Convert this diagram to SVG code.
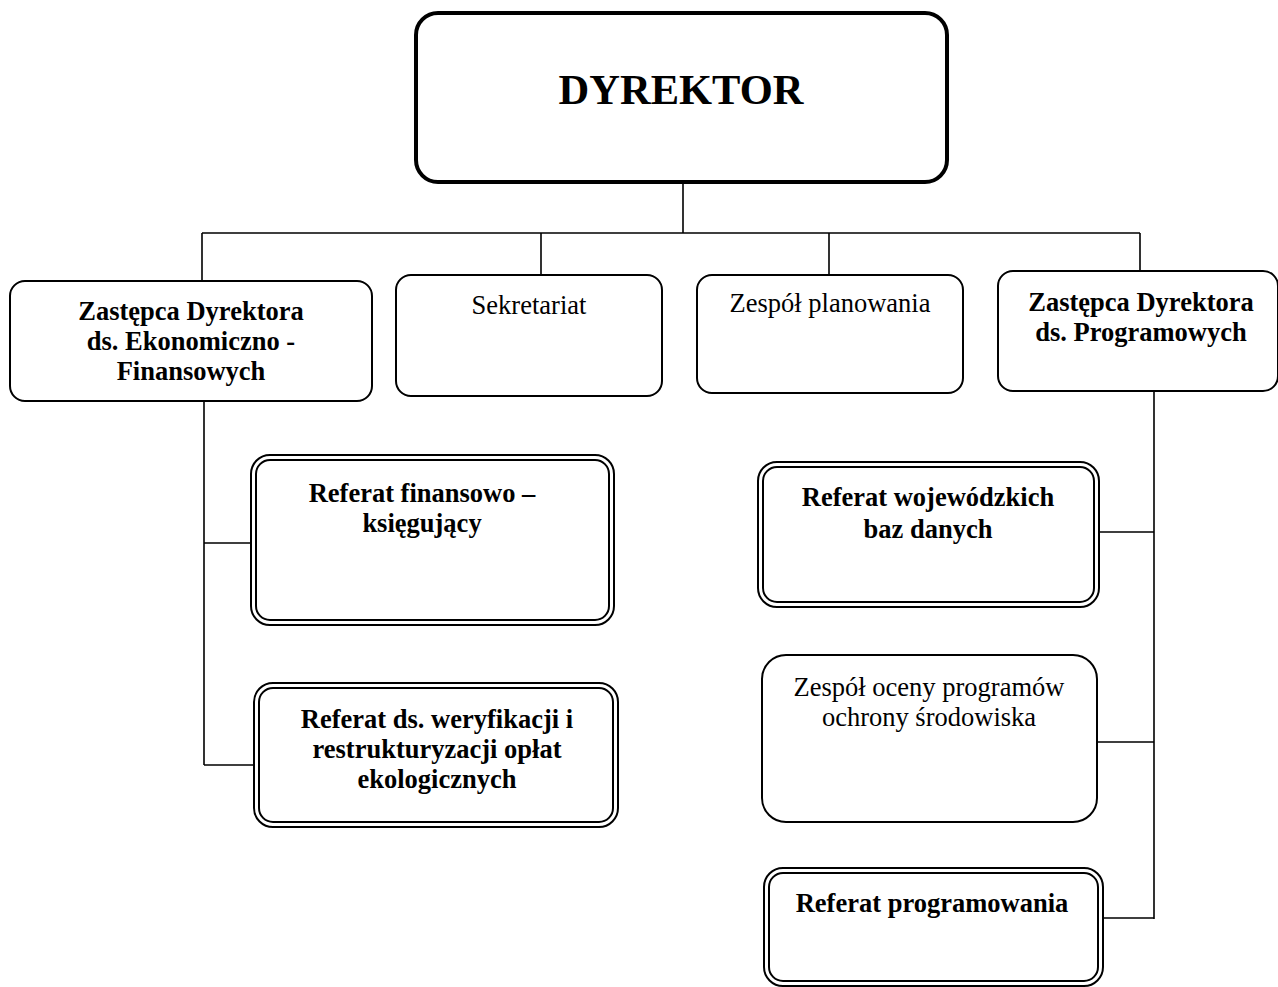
<svg xmlns="http://www.w3.org/2000/svg" width="1278" height="987" viewBox="0 0 1278 987">
  <style>
    .box { fill: #fff; stroke: #000; stroke-width: 2; }
    .main { fill: #fff; stroke: #000; stroke-width: 4; }
    .dbl { fill: none; stroke: #000; stroke-width: 2; }
    .link { fill: none; stroke: #000; stroke-width: 1.6; }
    text { font-family: "Liberation Serif", "Times New Roman", serif; fill: #000; text-anchor: middle; }
    .b { font-weight: bold; font-size: 26.5px; }
    .r { font-size: 26.5px; }
    .title { font-weight: bold; font-size: 42.5px; }
  </style>
  <rect width="1278" height="987" fill="#fff"/>

  <!-- connectors -->
  <g id="connectors">
    <path class="link" d="M683 183 V233 M202 233 H1140 M202 233 V282 M541 233 V275 M829 233 V275 M1140 233 V271"/>
    <path class="link" d="M204 401 V765 M204 543 H252 M204 765 H255"/>
    <path class="link" d="M1154 390 V919 M1099 532 H1154 M1097 742 H1154 M1103 918 H1154"/>
  </g>

  <g id="dyrektor">
    <rect class="main" x="416" y="13" width="531" height="169" rx="22"/>
    <text class="title" x="681" y="104">DYREKTOR</text>
  </g>

  <g id="zastepca-ekonomiczno">
    <rect class="box" x="10" y="281" width="362" height="120" rx="15"/>
    <text class="b" x="191" y="320">Zastępca Dyrektora</text>
    <text class="b" x="191" y="350">ds. Ekonomiczno -</text>
    <text class="b" x="191" y="380">Finansowych</text>
  </g>

  <g id="sekretariat">
    <rect class="box" x="396" y="275" width="266" height="121" rx="15"/>
    <text class="r" x="529" y="314">Sekretariat</text>
  </g>

  <g id="zespol-planowania">
    <rect class="box" x="697" y="275" width="266" height="118" rx="15"/>
    <text class="r" x="830" y="312">Zespół planowania</text>
  </g>

  <g id="zastepca-programowych">
    <rect class="box" x="998" y="271" width="280" height="120" rx="15"/>
    <text class="b" x="1141" y="311">Zastępca Dyrektora</text>
    <text class="b" x="1141" y="341">ds. Programowych</text>
  </g>

  <g id="referat-finansowo">
    <rect class="dbl" x="251" y="455" width="363" height="170" rx="19"/>
    <rect class="dbl" x="256" y="460" width="353" height="160" rx="14"/>
    <text class="b" x="422" y="502">Referat finansowo –</text>
    <text class="b" x="422" y="532">księgujący</text>
  </g>

  <g id="referat-weryfikacji">
    <rect class="dbl" x="254" y="683" width="364" height="144" rx="19"/>
    <rect class="dbl" x="259" y="688" width="354" height="134" rx="14"/>
    <text class="b" x="437" y="728">Referat ds. weryfikacji i</text>
    <text class="b" x="437" y="758">restrukturyzacji opłat</text>
    <text class="b" x="437" y="788">ekologicznych</text>
  </g>

  <g id="referat-baz-danych">
    <rect class="dbl" x="758" y="462" width="341" height="145" rx="19"/>
    <rect class="dbl" x="763" y="467" width="331" height="135" rx="14"/>
    <text class="b" x="928" y="506">Referat wojewódzkich</text>
    <text class="b" x="928" y="538">baz danych</text>
  </g>

  <g id="zespol-oceny">
    <rect class="box" x="762" y="655" width="335" height="167" rx="24"/>
    <text class="r" x="929" y="696">Zespół oceny programów</text>
    <text class="r" x="929" y="726">ochrony środowiska</text>
  </g>

  <g id="referat-programowania">
    <rect class="dbl" x="764" y="868" width="339" height="118" rx="19"/>
    <rect class="dbl" x="769" y="873" width="329" height="108" rx="14"/>
    <text class="b" x="932" y="912">Referat programowania</text>
  </g>
</svg>
